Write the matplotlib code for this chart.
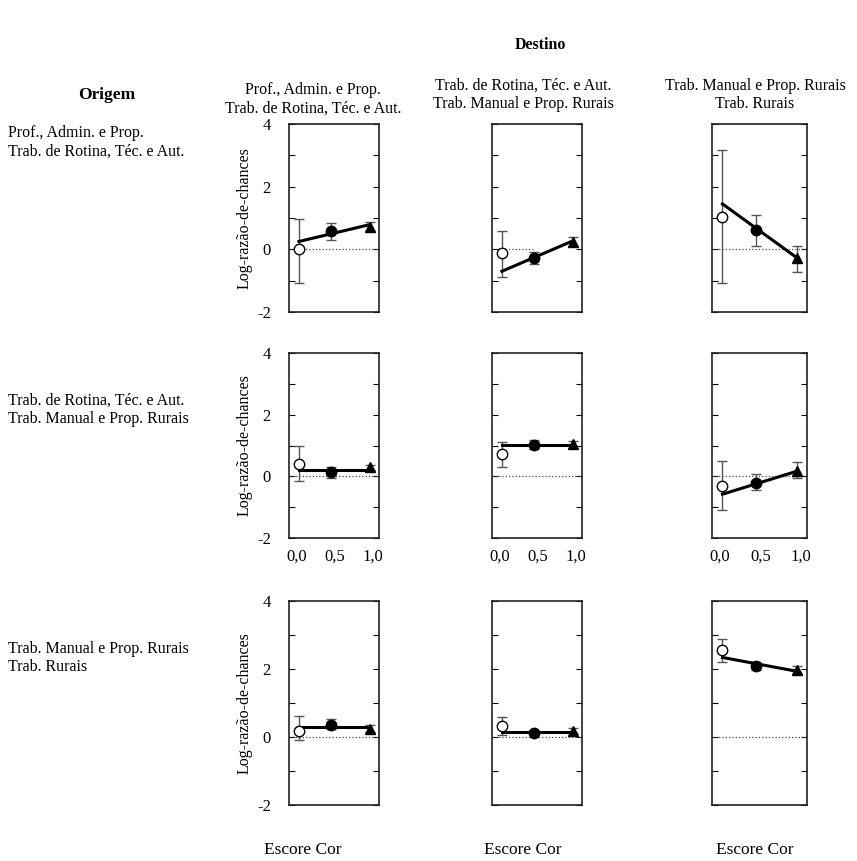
import numpy as np
import matplotlib
matplotlib.use("Agg")
import matplotlib.pyplot as plt

plt.rcParams['font.family'] = ['Liberation Serif', 'DejaVu Serif']

# category labels
origens = ["Prof., Admin. e Prop.\nTrab. de Rotina, Téc. e Aut.",
           "Trab. de Rotina, Téc. e Aut.\nTrab. Manual e Prop. Rurais",
           "Trab. Manual e Prop. Rurais\nTrab. Rurais"]
destinos = origens

# x position of the three colour groups (escore cor)
escore = [0.03, 0.45, 0.96]

# observed log-odds per panel [row][col] : (branco, pardo, preto)
obs = [[[0.0, 0.57, 0.71], [-0.13, -0.29, 0.24], [1.02, 0.63, -0.28]],
       [[0.41, 0.14, 0.29], [0.71, 1.01, 1.04], [-0.30, -0.21, 0.16]],
       [[0.19, 0.36, 0.24], [0.32, 0.12, 0.18], [2.56, 2.10, 1.97]]]
lo = [[[-1.07, 0.31, 0.58], [-0.89, -0.48, 0.11], [-1.07, 0.11, -0.72]],
      [[-0.14, -0.05, 0.19], [0.31, 0.88, 0.92], [-1.09, -0.45, -0.05]],
      [[-0.10, 0.25, 0.15], [0.06, 0.06, 0.12], [2.21, 1.98, 1.88]]]
hi = [[[0.98, 0.84, 0.87], [0.57, -0.07, 0.40], [3.16, 1.11, 0.10]],
      [[0.97, 0.31, 0.38], [1.10, 1.17, 1.15], [0.49, 0.06, 0.46]],
      [[0.63, 0.54, 0.34], [0.59, 0.20, 0.26], [2.88, 2.22, 2.09]]]
# fitted line endpoints (at first and last escore)
fit = [[[0.25, 0.79], [-0.70, 0.27], [1.45, -0.28]],
       [[0.22, 0.22], [1.02, 1.02], [-0.58, 0.17]],
       [[0.29, 0.29], [0.16, 0.16], [2.34, 1.93]]]

markers = ['o', 'o', '^']
faces = ['white', 'black', 'black']

W, H = 857, 861
col_left = [289, 492, 712]
col_w = [90, 90, 95]
row_top = [124, 353, 601]
row_h = [188, 185, 204]
head_x = [313, 523, 755]
foot_x = [303, 523, 755]

fig = plt.figure(figsize=(W / 100, H / 100), dpi=100)

for r in range(3):
    for c in range(3):
        ax = fig.add_axes([col_left[c] / W, 1 - (row_top[r] + row_h[r]) / H,
                           col_w[c] / W, row_h[r] / H])
        ax.set_xlim(-0.1, 1.08)
        ax.set_ylim(-2, 4)
        if r == 0 and c == 1:
            ax.plot([-0.1, escore[1]], [0, 0], ls=':', color='#444444', lw=0.9)
        else:
            ax.axhline(0, ls=':', color='#444444', lw=0.9)
        ax.plot([escore[0], escore[2]], fit[r][c], color='black', lw=2.2, zorder=3)
        for k in range(3):
            y = obs[r][c][k]
            ax.errorbar(escore[k], y, yerr=[[y - lo[r][c][k]], [hi[r][c][k] - y]],
                        fmt='none', ecolor='#555555', elinewidth=1, capsize=3.5, zorder=2)
            ax.plot(escore[k], y, marker=markers[k], ms=7.5, mfc=faces[k],
                    mec='black', mew=1, ls='none', zorder=4)
        ax.set_yticks(range(-2, 5))
        ax.tick_params(axis='y', direction='in', length=4, left=True, right=True,
                       width=0.8, labelsize=12, pad=13)
        if c == 0:
            ax.set_yticklabels(['-2', '', '0', '', '2', '', '4'])
            ax.set_ylabel("Log-razão-de-chances", fontsize=11.5, labelpad=3)
        else:
            ax.set_yticklabels([])
        if r == 1:
            ax.set_xticks([0, 0.5, 1])
            ax.set_xticklabels(['0,0', '0,5', '1,0'], fontsize=12)
            ax.tick_params(axis='x', length=0, pad=8)
        else:
            ax.set_xticks([])
        for s in ax.spines.values():
            s.set_linewidth(1.2)
            s.set_color('#222222')

# headers
fig.text(540 / W, 1 - 45 / H, "Destino", ha='center', va='center',
         fontsize=11.5, fontweight='bold')
fig.text(107 / W, 1 - 95 / H, "Origem", ha='center', va='center',
         fontsize=12.5, fontweight='bold')
for c in range(3):
    fig.text(head_x[c] / W, 1 - (99 - 4 * (c > 0)) / H, destinos[c],
             ha='center', va='center', fontsize=11.5, linespacing=1.2)
    fig.text(foot_x[c] / W, 1 - 850 / H, "Escore Cor",
             ha='center', va='center', fontsize=12.5)

row_lab_y = [142, 410, 658]
for r in range(3):
    fig.text(8 / W, 1 - row_lab_y[r] / H, origens[r], ha='left', va='center',
             fontsize=11.5, linespacing=1.2)

fig.savefig("out.png", dpi=100)
